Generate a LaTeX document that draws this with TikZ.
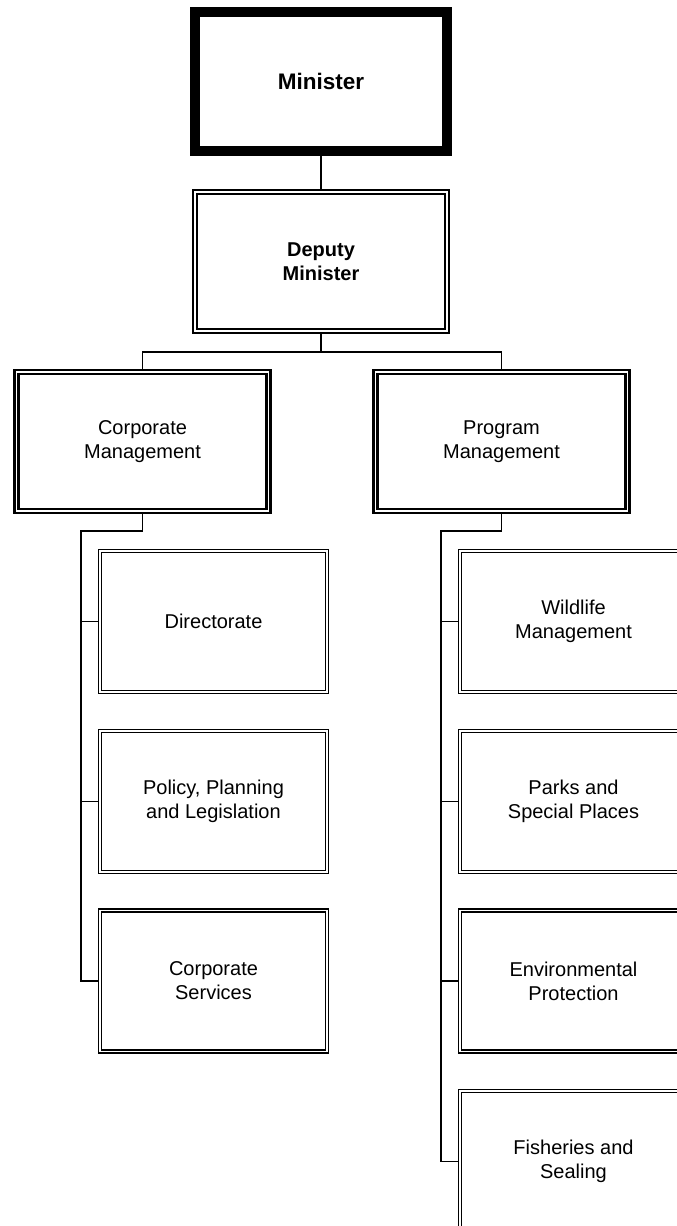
\documentclass[tikz,border=0pt]{standalone}
\usepackage{fontspec}
\setmainfont{Liberation Sans}
\usetikzlibrary{backgrounds}
\begin{document}
\begin{tikzpicture}[x=1pt,y=-1pt,
  every node/.style={font=\fontsize{20}{24}\selectfont, align=center, inner sep=0pt},
  topbox/.style={draw, line width=10pt, minimum width=252pt, minimum height=139pt,
    font=\fontsize{22.5}{26}\selectfont\bfseries},
  headbox/.style={draw, line width=2.4pt, double=white, double distance=1.4pt,
    minimum width=252pt, minimum height=139pt},
  unitbox/.style={draw, line width=1.5pt, double=white, double distance=1.2pt,
    minimum width=227pt, minimum height=141pt},
  link/.style={line width=1.2pt}]
\useasboundingbox (0,0) rectangle (677,1226);
\clip (0,0) rectangle (677,1226);

% top of the hierarchy
\node[topbox] (min) at (321,81.5) {Minister};
\node[headbox, font=\fontsize{20}{24}\selectfont\bfseries] (dep) at (321,261.5) {Deputy\\Minister};

% branches
\node[headbox] (cm) at (142.5,441.5) {Corporate\\Management};
\node[headbox] (pm) at (501.5,441.5) {Program\\Management};

% corporate units
\node[unitbox] (dir) at (213.5,621.5) {Directorate};
\node[unitbox] (ppl) at (213.5,801.5) {Policy, Planning\\and Legislation};
\node[unitbox] (cs)  at (213.5,981) {Corporate\\Services};

% program units
\node[unitbox] (wm) at (573.5,621.5) {Wildlife\\Management};
\node[unitbox] (pk) at (573.5,801.5) {Parks and\\Special Places};
\node[unitbox] (ep) at (573.5,981) {Environmental\\Protection};
\node[unitbox] (fs) at (573.5,1161.5) {Fisheries and\\Sealing};

\coordinate (bus) at (321,352);
\coordinate (ltop) at (81,531);
\coordinate (rtop) at (441,531);

\begin{scope}[on background layer]
  \draw[link] (min.south) -- (dep.north);
  \draw[link] (dep.south) -- (bus);
  \draw[link] (cm.north) |- (bus) -| (pm.north);
  \draw[link] (cm.south) |- (ltop) |- (cs.west);
  \draw[link] (ltop |- dir.west) -- (dir.west);
  \draw[link] (ltop |- ppl.west) -- (ppl.west);
  \draw[link] (pm.south) |- (rtop) |- (fs.west);
  \draw[link] (rtop |- wm.west) -- (wm.west);
  \draw[link] (rtop |- pk.west) -- (pk.west);
  \draw[link] (rtop |- ep.west) -- (ep.west);
\end{scope}
\end{tikzpicture}
\end{document}
